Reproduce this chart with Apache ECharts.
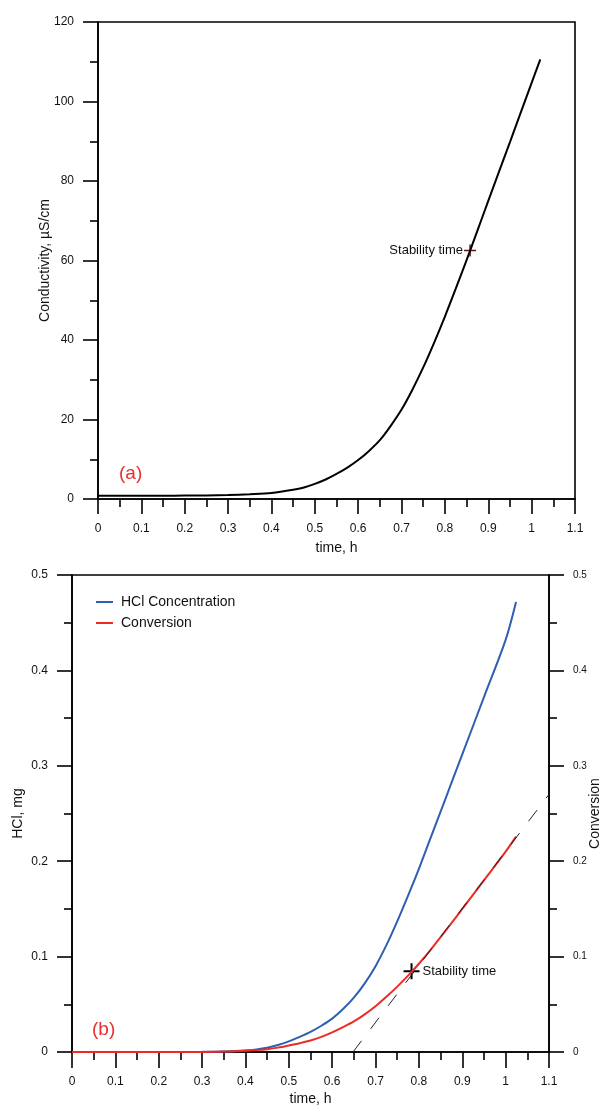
<!DOCTYPE html>
<html><head><meta charset="utf-8">
<script src="https://cdn.jsdelivr.net/npm/echarts@6.0.0/dist/echarts.min.js"></script>
<style>html,body{margin:0;padding:0;background:#fff}#c{width:610px;height:1107px}</style>
</head><body><div id="c"></div>
<script>
// ---- Panel (a) ----
const timeA = [0, 0.05, 0.1, 0.15, 0.2, 0.25, 0.3, 0.35, 0.4, 0.45, 0.475, 0.5, 0.525, 0.55, 0.575, 0.6, 0.625, 0.65, 0.675, 0.7, 0.725, 0.75, 0.775, 0.8, 0.825, 0.85, 0.875, 0.9, 0.95, 1.0, 1.02];
const conductivity = [0.8, 0.8, 0.8, 0.8, 0.85, 0.9, 1.0, 1.2, 1.5, 2.3, 2.9, 3.8, 4.9, 6.3, 7.9, 9.8, 12.1, 14.8, 18.4, 22.5, 27.5, 33.1, 39.3, 45.9, 52.9, 60.1, 67.5, 75.0, 89.8, 104.7, 110.6];
const stabilityA = [0.858, 62.5];
const xRangeA = [0, 1.1, 0.1];
const yRangeA = [0, 120, 20];

// ---- Panel (b) ----
const timeB = [0, 0.05, 0.1, 0.15, 0.2, 0.25, 0.3, 0.35, 0.4, 0.425, 0.45, 0.475, 0.5, 0.525, 0.55, 0.575, 0.6, 0.625, 0.65, 0.675, 0.7, 0.725, 0.75, 0.775, 0.8, 0.825, 0.85, 0.875, 0.9, 0.95, 1.0, 1.024];
const hclConc = [0, 0, 0, 0, 0, 0, 0.0002, 0.0006, 0.0016, 0.0027, 0.0045, 0.0074, 0.0112, 0.0158, 0.021, 0.0275, 0.035, 0.045, 0.057, 0.072, 0.090, 0.112, 0.137, 0.164, 0.192, 0.222, 0.252, 0.282, 0.312, 0.372, 0.432, 0.4716];
const conversion = [0, 0, 0, 0, 0, 0, 0.0001, 0.0004, 0.0014, 0.002, 0.003, 0.0046, 0.0068, 0.0092, 0.012, 0.0158, 0.0205, 0.026, 0.032, 0.0395, 0.048, 0.0578, 0.0685, 0.080, 0.0925, 0.106, 0.1205, 0.135, 0.150, 0.180, 0.210, 0.2257];
const tangentT = [0.648, 1.1];
const tangentV = [0, 0.27];
const stabilityB = [0.783, 0.0846];
const xRangeB = [0, 1.1, 0.1];
const yRangeB = [0, 0.5, 0.1];

const FONT = 'Liberation Sans, Arial, sans-serif';
const pairs = (xs, ys) => xs.map((x, i) => [x, ys[i]]);

function axisStyle(extra, tickLen, labelSize) {
  return Object.assign({
    type: 'value',
    axisLine: { show: true, onZero: false, lineStyle: { color: '#000', width: 1.6 } },
    axisTick: { show: true, inside: false, length: tickLen, lineStyle: { color: '#000', width: 1.6 } },
    minorTick: { show: true, splitNumber: 2, length: 8, lineStyle: { color: '#000', width: 1.6 } },
    splitLine: { show: false },
    minorSplitLine: { show: false },
    axisLabel: { margin: 24, fontSize: labelSize, color: '#111', fontFamily: FONT },
    nameLocation: 'middle',
    nameMoveOverlap: false,
    nameTextStyle: { fontSize: 14, color: '#111', fontFamily: FONT }
  }, extra);
}

const cross = 'path://M0,7 H16 V9 H0 Z M7,0 H9 V16 H7 Z';

const chart = echarts.init(document.getElementById('c'), null, { renderer: 'canvas' });
chart.setOption({
  backgroundColor: '#fff',
  animation: false,
  grid: [
    { left: 98, top: 22, width: 477, height: 477, show: true, borderColor: '#000', borderWidth: 1.6, containLabel: false, outerBoundsMode: 'none' },
    { left: 72, top: 575, width: 477, height: 477, show: true, borderColor: '#000', borderWidth: 1.6, containLabel: false, outerBoundsMode: 'none' }
  ],
  xAxis: [
    axisStyle({ gridIndex: 0, min: xRangeA[0], max: xRangeA[1], interval: xRangeA[2], name: 'time, h', nameGap: 42 }, 15, 12),
    axisStyle({ gridIndex: 1, min: xRangeB[0], max: xRangeB[1], interval: xRangeB[2], name: 'time, h', nameGap: 40 }, 16, 12)
  ],
  yAxis: [
    axisStyle({ gridIndex: 0, min: yRangeA[0], max: yRangeA[1], interval: yRangeA[2], name: 'Conductivity, µS/cm', nameGap: 46 }, 15, 12),
    axisStyle({ gridIndex: 1, min: yRangeB[0], max: yRangeB[1], interval: yRangeB[2], name: 'HCl, mg', nameGap: 47 }, 15, 12),
    axisStyle({ gridIndex: 1, position: 'right', min: yRangeB[0], max: yRangeB[1], interval: yRangeB[2], name: 'Conversion', nameGap: 39,
      axisLabel: { margin: 24, fontSize: 10, color: '#111', fontFamily: FONT } }, 15, 10)
  ],
  legend: {
    orient: 'vertical', left: 96, top: 595, padding: 0, itemGap: 7,
    itemWidth: 17, itemHeight: 2, icon: 'rect',
    textStyle: { fontSize: 14, color: '#111', fontFamily: FONT, padding: [0, 0, 0, 3] },
    data: ['HCl Concentration', 'Conversion']
  },
  graphic: [
    { type: 'text', left: 119, top: 464, style: { text: '(a)', fontSize: 19, fill: '#e8302e', fontFamily: FONT } },
    { type: 'text', left: 92, top: 1020, style: { text: '(b)', fontSize: 19, fill: '#e8302e', fontFamily: FONT } }
  ],
  series: [
    {
      type: 'line', name: 'Conductivity', xAxisIndex: 0, yAxisIndex: 0,
      data: pairs(timeA, conductivity), showSymbol: false, symbol: 'none',
      smooth: 0.3,
      lineStyle: { color: '#000', width: 2 }
    },
    {
      type: 'scatter', name: 'stabA', xAxisIndex: 0, yAxisIndex: 0,
      data: [stabilityA], symbol: cross, symbolSize: 12,
      itemStyle: { color: '#5c1a1a', opacity: 1 },
      label: { show: true, position: 'left', distance: 1, formatter: 'Stability time', fontSize: 13, color: '#111', fontFamily: FONT }
    },
    {
      type: 'line', name: 'HCl Concentration', xAxisIndex: 1, yAxisIndex: 1,
      data: pairs(timeB, hclConc), showSymbol: false, symbol: 'none',
      smooth: 0.3,
      itemStyle: { color: '#2f5fb3' },
      lineStyle: { color: '#2f5fb3', width: 2 }
    },
    {
      type: 'line', name: 'Conversion', xAxisIndex: 1, yAxisIndex: 2,
      data: pairs(timeB, conversion), showSymbol: false, symbol: 'none',
      smooth: 0.3,
      itemStyle: { color: '#ee2a24' },
      lineStyle: { color: '#ee2a24', width: 2 }
    },
    {
      type: 'line', name: 'tangent', xAxisIndex: 1, yAxisIndex: 2,
      data: pairs(tangentT, tangentV), showSymbol: false, symbol: 'none',
      lineStyle: { color: '#222', width: 1, type: [14, 15] }
    },
    {
      type: 'scatter', name: 'stabB', xAxisIndex: 1, yAxisIndex: 2,
      data: [stabilityB], symbol: cross, symbolSize: 16,
      itemStyle: { color: '#000', opacity: 1 },
      label: { show: true, position: 'right', distance: 3, formatter: 'Stability time', fontSize: 13, color: '#111', fontFamily: FONT }
    }
  ]
});
</script>
</body></html>
